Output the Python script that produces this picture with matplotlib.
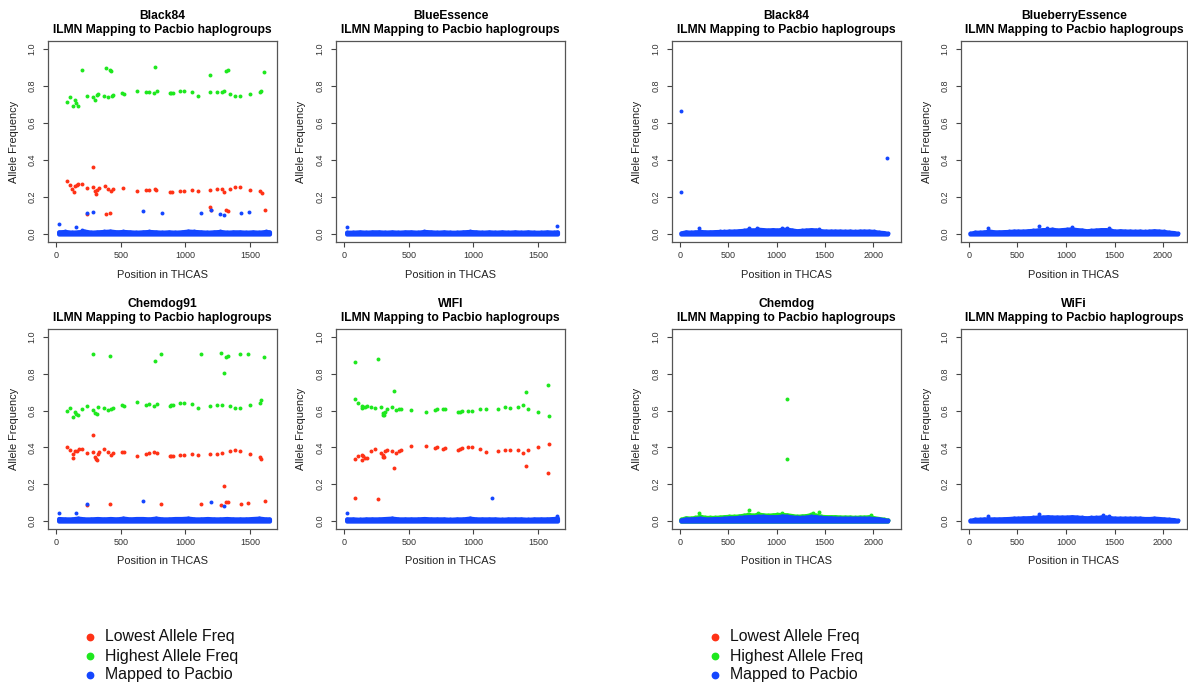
"""
Allele frequency panels: ILMN reads mapped to Pacbio haplogroups.
"""

import matplotlib

matplotlib.use("Agg")
import matplotlib.pyplot as plt
from matplotlib.lines import Line2D

plt.rcParams["font.family"] = ["Liberation Sans", "DejaVu Sans"]

RED = "#ff3216"
GREEN = "#1ee81e"
BLUE = "#1446ff"
TITLE_2 = "ILMN Mapping to Pacbio haplogroups"
LEGEND_LABELS = ["Lowest Allele Freq", "Highest Allele Freq", "Mapped to Pacbio"]

# ---- left group (THCAS length ~1650) ----
BAND_X_L = [20, 70, 120, 170, 220, 270, 320, 370, 420, 470, 520, 570, 620, 670, 720,
            770, 820, 870, 920, 970, 1020, 1070, 1120, 1170, 1220, 1270, 1320, 1370,
            1420, 1470, 1520, 1570, 1620, 1650]

# Black84
A_GREEN_X = [83, 108, 129, 147, 155, 168, 204, 238, 284, 302, 315, 328, 374, 385, 405, 418,
             423, 431, 439, 511, 522, 625, 695, 715, 759, 764, 777, 878, 891, 904, 961, 986,
             1048, 1095, 1188, 1193, 1245, 1286, 1301, 1317, 1327, 1348, 1381, 1420, 1497,
             1580, 1588, 1611]
A_GREEN_Y = [0.716, 0.739, 0.692, 0.725, 0.707, 0.694, 0.887, 0.746, 0.739, 0.725, 0.752,
             0.754, 0.746, 0.897, 0.739, 0.887, 0.881, 0.748, 0.752, 0.761, 0.755, 0.773,
             0.768, 0.770, 0.764, 0.901, 0.773, 0.761, 0.764, 0.764, 0.773, 0.773, 0.768,
             0.748, 0.766, 0.860, 0.766, 0.766, 0.775, 0.881, 0.885, 0.759, 0.748, 0.748,
             0.757, 0.768, 0.775, 0.878]
A_RED_X = [83, 108, 127, 137, 147, 160, 173, 204, 238, 240, 284, 289, 302, 310, 320, 336,
           380, 387, 405, 418, 426, 439, 516, 625, 695, 718, 762, 775, 878, 896, 961, 986,
           1048, 1095, 1188, 1193, 1198, 1245, 1283, 1301, 1317, 1330, 1348, 1381, 1420,
           1497, 1580, 1591, 1614]
A_RED_Y = [0.284, 0.264, 0.243, 0.225, 0.257, 0.266, 0.272, 0.272, 0.250, 0.108, 0.362,
           0.255, 0.230, 0.218, 0.239, 0.248, 0.261, 0.110, 0.243, 0.113, 0.232, 0.243,
           0.248, 0.230, 0.236, 0.239, 0.245, 0.236, 0.228, 0.227, 0.234, 0.234, 0.239,
           0.234, 0.236, 0.146, 0.131, 0.243, 0.243, 0.228, 0.128, 0.124, 0.246, 0.254,
           0.254, 0.239, 0.230, 0.221, 0.128]
A_BLUE_X = [26, 155, 199, 240, 289, 676, 818, 1123, 1200, 1270, 1301, 1430, 1490]
A_BLUE_Y = [0.054, 0.036, 0.023, 0.113, 0.119, 0.124, 0.115, 0.115, 0.130, 0.110, 0.103,
            0.113, 0.120]
A_BAND = [0.012, 0.014, 0.010, 0.012, 0.016, 0.010, 0.012, 0.014, 0.016, 0.012,
          0.014, 0.012, 0.010, 0.012, 0.014, 0.012, 0.010, 0.012, 0.010, 0.012,
          0.016, 0.014, 0.012, 0.010, 0.012, 0.014, 0.010, 0.012, 0.012, 0.010,
          0.012, 0.010, 0.014, 0.012]

# BlueEssence
B_BLUE_X = [20, 1650]
B_BLUE_Y = [0.038, 0.045]
B_BAND = [0.010, 0.010, 0.012, 0.010, 0.012, 0.012, 0.010, 0.012, 0.010, 0.012,
          0.012, 0.010, 0.014, 0.012, 0.010, 0.012, 0.010, 0.010, 0.012, 0.014,
          0.012, 0.010, 0.012, 0.010, 0.012, 0.010, 0.012, 0.010, 0.012, 0.010,
          0.010, 0.012, 0.010, 0.012]

# Chemdog91
C_GREEN_X = [83, 108, 129, 145, 155, 173, 204, 238, 284, 289, 302, 315, 328, 374, 398, 418,
             426, 439, 511, 522, 625, 695, 718, 759, 762, 777, 813, 878, 891, 904, 961, 986,
             1048, 1095, 1123, 1188, 1245, 1276, 1286, 1301, 1317, 1330, 1348, 1381, 1420,
             1425, 1487, 1497, 1580, 1588, 1611]
C_GREEN_Y = [0.596, 0.614, 0.564, 0.594, 0.583, 0.575, 0.610, 0.623, 0.907, 0.605, 0.587,
             0.583, 0.618, 0.614, 0.603, 0.896, 0.610, 0.616, 0.632, 0.623, 0.646, 0.632,
             0.634, 0.625, 0.869, 0.636, 0.907, 0.625, 0.630, 0.630, 0.643, 0.643, 0.636,
             0.612, 0.908, 0.627, 0.632, 0.910, 0.630, 0.806, 0.892, 0.898, 0.625, 0.614,
             0.614, 0.905, 0.905, 0.628, 0.641, 0.655, 0.889]
C_RED_X = [83, 108, 129, 134, 150, 160, 176, 204, 238, 240, 284, 289, 300, 310, 318, 325,
           330, 374, 398, 421, 426, 439, 511, 522, 625, 695, 718, 759, 777, 813, 878, 891,
           904, 961, 986, 1048, 1095, 1123, 1188, 1245, 1276, 1286, 1301, 1317, 1330, 1348,
           1381, 1420, 1428, 1487, 1497, 1580, 1588, 1614]
C_RED_Y = [0.404, 0.386, 0.363, 0.345, 0.379, 0.383, 0.389, 0.389, 0.372, 0.088, 0.465,
           0.377, 0.348, 0.336, 0.329, 0.364, 0.373, 0.390, 0.375, 0.093, 0.359, 0.372,
           0.377, 0.375, 0.354, 0.366, 0.370, 0.377, 0.368, 0.093, 0.354, 0.355, 0.355,
           0.361, 0.357, 0.364, 0.359, 0.093, 0.366, 0.366, 0.088, 0.368, 0.192, 0.106,
           0.102, 0.381, 0.386, 0.381, 0.092, 0.100, 0.363, 0.350, 0.339, 0.111]
C_BLUE_X = [26, 155, 240, 676, 1200, 1301]
C_BLUE_Y = [0.043, 0.043, 0.093, 0.108, 0.102, 0.084]
C_BAND = [0.014, 0.012, 0.012, 0.016, 0.012, 0.012, 0.014, 0.012, 0.014, 0.012,
          0.016, 0.012, 0.014, 0.014, 0.012, 0.016, 0.012, 0.012, 0.014, 0.014,
          0.016, 0.012, 0.012, 0.014, 0.012, 0.012, 0.014, 0.012, 0.012, 0.012,
          0.014, 0.016, 0.012, 0.012]

# WIFI
D_GREEN_X = [83, 83, 108, 137, 142, 150, 160, 175, 205, 238, 263, 289, 300, 305, 309, 318,
             330, 374, 387, 405, 426, 439, 516, 632, 701, 718, 768, 777, 884, 897, 910, 961,
             986, 1048, 1095, 1188, 1245, 1286, 1348, 1381, 1410, 1420, 1497, 1580, 1588]
D_GREEN_Y = [0.862, 0.662, 0.643, 0.625, 0.612, 0.622, 0.618, 0.624, 0.622, 0.612, 0.879,
             0.620, 0.587, 0.578, 0.575, 0.595, 0.610, 0.620, 0.707, 0.605, 0.610, 0.610,
             0.603, 0.592, 0.605, 0.607, 0.610, 0.606, 0.590, 0.595, 0.596, 0.600, 0.598,
             0.610, 0.606, 0.610, 0.617, 0.615, 0.620, 0.630, 0.702, 0.610, 0.595, 0.738,
             0.572]
D_RED_X = [83, 83, 108, 137, 142, 150, 160, 175, 205, 238, 263, 289, 300, 305, 309, 318,
           330, 374, 387, 405, 426, 439, 516, 632, 701, 718, 768, 777, 884, 897, 910, 961,
           986, 1048, 1095, 1188, 1245, 1286, 1348, 1381, 1410, 1420, 1497, 1580, 1588]
D_RED_Y = [0.124, 0.336, 0.354, 0.333, 0.358, 0.352, 0.345, 0.340, 0.378, 0.390, 0.120,
           0.370, 0.358, 0.350, 0.348, 0.380, 0.385, 0.382, 0.290, 0.370, 0.378, 0.385,
           0.405, 0.408, 0.395, 0.400, 0.390, 0.396, 0.388, 0.392, 0.395, 0.400, 0.400,
           0.390, 0.375, 0.382, 0.385, 0.385, 0.385, 0.370, 0.300, 0.388, 0.400, 0.260,
           0.420]
D_BLUE_X = [20, 1140, 1650]
D_BLUE_Y = [0.045, 0.125, 0.025]
D_BAND = [0.012, 0.012, 0.010, 0.012, 0.012, 0.012, 0.014, 0.016, 0.012, 0.012,
          0.012, 0.012, 0.014, 0.012, 0.012, 0.012, 0.010, 0.012, 0.012, 0.016,
          0.012, 0.012, 0.012, 0.012, 0.010, 0.012, 0.012, 0.012, 0.010, 0.012,
          0.012, 0.012, 0.014, 0.016]

# ---- right group (THCAS length ~2150) ----
BAND_X_R = list(range(10, 2111, 50)) + [2150]

# Black84
E_BLUE_X = [15, 15, 2145, 200, 720, 800, 1060, 1110, 1440]
E_BLUE_Y = [0.665, 0.228, 0.413, 0.030, 0.035, 0.030, 0.030, 0.030, 0.028]
E_BAND = [0.006, 0.012, 0.010, 0.012, 0.014, 0.012, 0.012, 0.013, 0.014, 0.014, 0.016,
          0.016, 0.018, 0.020, 0.024, 0.022, 0.026, 0.024, 0.022, 0.024, 0.022, 0.026,
          0.026, 0.022, 0.018, 0.020, 0.022, 0.024, 0.022, 0.018, 0.016, 0.016, 0.016,
          0.016, 0.015, 0.016, 0.014, 0.016, 0.016, 0.016, 0.014, 0.010, 0.008, 0.004]

# BlueberryEssence
F_BLUE_X = [200, 720, 800, 1060, 1440]
F_BLUE_Y = [0.032, 0.042, 0.030, 0.036, 0.034]
F_BAND = [0.004, 0.010, 0.010, 0.012, 0.016, 0.012, 0.012, 0.013, 0.014, 0.016, 0.016,
          0.016, 0.018, 0.020, 0.022, 0.024, 0.024, 0.026, 0.022, 0.024, 0.026, 0.028,
          0.024, 0.022, 0.018, 0.020, 0.022, 0.024, 0.024, 0.020, 0.016, 0.018, 0.016,
          0.016, 0.015, 0.016, 0.014, 0.016, 0.018, 0.016, 0.014, 0.010, 0.008, 0.004]

# Chemdog
G_GREEN_X = [1110, 1110, 200, 720, 810, 1060, 1380, 1440, 1975]
G_GREEN_Y = [0.665, 0.338, 0.045, 0.062, 0.045, 0.045, 0.045, 0.052, 0.035]
G_GREEN_BAND = [0.010, 0.018, 0.016, 0.020, 0.026, 0.020, 0.020, 0.020, 0.022, 0.024,
                0.026, 0.026, 0.028, 0.032, 0.036, 0.032, 0.038, 0.034, 0.032, 0.034,
                0.036, 0.036, 0.034, 0.030, 0.026, 0.028, 0.030, 0.036, 0.032, 0.026,
                0.024, 0.024, 0.024, 0.022, 0.022, 0.022, 0.020, 0.022, 0.022, 0.024,
                0.018, 0.014, 0.010, 0.006]
G_BAND = [0.006, 0.012, 0.012, 0.014, 0.016, 0.012, 0.012, 0.014, 0.014, 0.016, 0.018,
          0.018, 0.020, 0.022, 0.024, 0.024, 0.026, 0.026, 0.024, 0.024, 0.024, 0.028,
          0.026, 0.022, 0.020, 0.020, 0.022, 0.026, 0.024, 0.020, 0.018, 0.018, 0.016,
          0.016, 0.016, 0.016, 0.016, 0.016, 0.016, 0.016, 0.014, 0.012, 0.008, 0.004]

# WiFi
H_BLUE_X = [200, 720, 1380, 1440]
H_BLUE_Y = [0.030, 0.040, 0.035, 0.030]
H_BAND = [0.004, 0.010, 0.010, 0.012, 0.012, 0.012, 0.012, 0.013, 0.014, 0.016, 0.016,
          0.018, 0.018, 0.020, 0.022, 0.022, 0.024, 0.022, 0.022, 0.022, 0.022, 0.024,
          0.022, 0.020, 0.018, 0.020, 0.020, 0.022, 0.022, 0.018, 0.016, 0.016, 0.016,
          0.016, 0.016, 0.016, 0.014, 0.014, 0.016, 0.014, 0.012, 0.010, 0.008, 0.004]

W, H = 1188, 686
XLIM_L = (-62, 1708)
XLIM_R = (-82, 2289)
XTICKS_L = [0, 500, 1000, 1500]
XTICKS_R = [0, 500, 1000, 1500, 2000]


def px_rect(left, top, right, bottom):
    """axes rect in figure fractions from pixel edges"""
    return [left / W, 1 - bottom / H, (right - left) / W, (bottom - top) / H]


def draw_band(ax, xs, tops, color):
    # the dense run of points near zero, drawn as a filled strip
    ax.fill_between(xs, 0, tops, color=color, edgecolor=color, linewidth=3.0, zorder=3)
    ax.scatter(xs, tops, s=8, color=color, linewidths=0, zorder=3)


def draw_panel(ax, name, xlim, xticks, band_x, band, red=None, green=None, blue=None,
               green_band=None):
    if red:
        ax.scatter(red[0], red[1], s=8, color=RED, linewidths=0, zorder=2)
    if green_band:
        draw_band(ax, band_x, green_band, GREEN)
    if green:
        ax.scatter(green[0], green[1], s=8, color=GREEN, linewidths=0, zorder=2)
    draw_band(ax, band_x, band, BLUE)
    if blue:
        ax.scatter(blue[0], blue[1], s=8, color=BLUE, linewidths=0, zorder=4)

    ax.set_xlim(*xlim)
    ax.set_ylim(-0.043, 1.043)
    ax.set_xticks(xticks)
    ax.set_yticks([0.0, 0.2, 0.4, 0.6, 0.8, 1.0])
    ax.set_yticklabels(["0.0", "0.2", "0.4", "0.6", "0.8", "1.0"], rotation=90, va="center")
    ax.tick_params(direction="out", length=3.6, width=0.8, colors="#444",
                   labelsize=6.5, labelcolor="#333")
    ax.tick_params(axis="x", pad=3.2)
    ax.tick_params(axis="y", pad=4.5)
    for sp in ax.spines.values():
        sp.set_color("#555")
        sp.set_linewidth(0.9)
    ax.set_title(name + "\n" + TITLE_2, fontsize=8.7, fontweight="bold", pad=5.5,
                 linespacing=1.25)
    ax.set_xlabel("Position in THCAS", fontsize=7.9, color="#222")
    ax.set_ylabel("Allele Frequency", fontsize=7.9, color="#222")
    ax.xaxis.set_label_coords(0.5, -27.5 / 201)
    ax.yaxis.set_label_coords(-29.5 / 229, 0.5)


def draw_legend(fig, x_marker, x_text, rows_y):
    for label, color, y in zip(LEGEND_LABELS, [RED, GREEN, BLUE], rows_y):
        fig.add_artist(Line2D([x_marker / W], [1 - y / H], marker="o", markersize=4.6,
                              color=color, linestyle="none", transform=fig.transFigure))
        fig.text(x_text / W, 1 - y / H, label, fontsize=11.4, color="#111",
                 ha="left", va="center")


fig = plt.figure(figsize=(W / 100, H / 100), dpi=100)

cols_l = [(48, 277), (336, 565)]
cols_r = [(672, 901), (961, 1187)]
rows = [(41, 242), (329, 529)]

ax = fig.add_axes(px_rect(cols_l[0][0], rows[0][0], cols_l[0][1], rows[0][1]))
draw_panel(ax, "Black84", XLIM_L, XTICKS_L, BAND_X_L, A_BAND,
           red=(A_RED_X, A_RED_Y), green=(A_GREEN_X, A_GREEN_Y), blue=(A_BLUE_X, A_BLUE_Y))

ax = fig.add_axes(px_rect(cols_l[1][0], rows[0][0], cols_l[1][1], rows[0][1]))
draw_panel(ax, "BlueEssence", XLIM_L, XTICKS_L, BAND_X_L, B_BAND, blue=(B_BLUE_X, B_BLUE_Y))

ax = fig.add_axes(px_rect(cols_l[0][0], rows[1][0], cols_l[0][1], rows[1][1]))
draw_panel(ax, "Chemdog91", XLIM_L, XTICKS_L, BAND_X_L, C_BAND,
           red=(C_RED_X, C_RED_Y), green=(C_GREEN_X, C_GREEN_Y), blue=(C_BLUE_X, C_BLUE_Y))

ax = fig.add_axes(px_rect(cols_l[1][0], rows[1][0], cols_l[1][1], rows[1][1]))
draw_panel(ax, "WIFI", XLIM_L, XTICKS_L, BAND_X_L, D_BAND,
           red=(D_RED_X, D_RED_Y), green=(D_GREEN_X, D_GREEN_Y), blue=(D_BLUE_X, D_BLUE_Y))

ax = fig.add_axes(px_rect(cols_r[0][0], rows[0][0], cols_r[0][1], rows[0][1]))
draw_panel(ax, "Black84", XLIM_R, XTICKS_R, BAND_X_R, E_BAND, blue=(E_BLUE_X, E_BLUE_Y))

ax = fig.add_axes(px_rect(cols_r[1][0], rows[0][0], cols_r[1][1], rows[0][1]))
draw_panel(ax, "BlueberryEssence", (-82, 2247), XTICKS_R, BAND_X_R, F_BAND,
           blue=(F_BLUE_X, F_BLUE_Y))

ax = fig.add_axes(px_rect(cols_r[0][0], rows[1][0], cols_r[0][1], rows[1][1]))
draw_panel(ax, "Chemdog", XLIM_R, XTICKS_R, BAND_X_R, G_BAND,
           green=(G_GREEN_X, G_GREEN_Y), green_band=G_GREEN_BAND)

ax = fig.add_axes(px_rect(cols_r[1][0], rows[1][0], cols_r[1][1], rows[1][1]))
draw_panel(ax, "WiFi", (-82, 2247), XTICKS_R, BAND_X_R, H_BAND, blue=(H_BLUE_X, H_BLUE_Y))

draw_legend(fig, 90, 105, [637, 656, 675])
draw_legend(fig, 715, 730, [637, 656, 675])

fig.savefig("out.png", dpi=100)
